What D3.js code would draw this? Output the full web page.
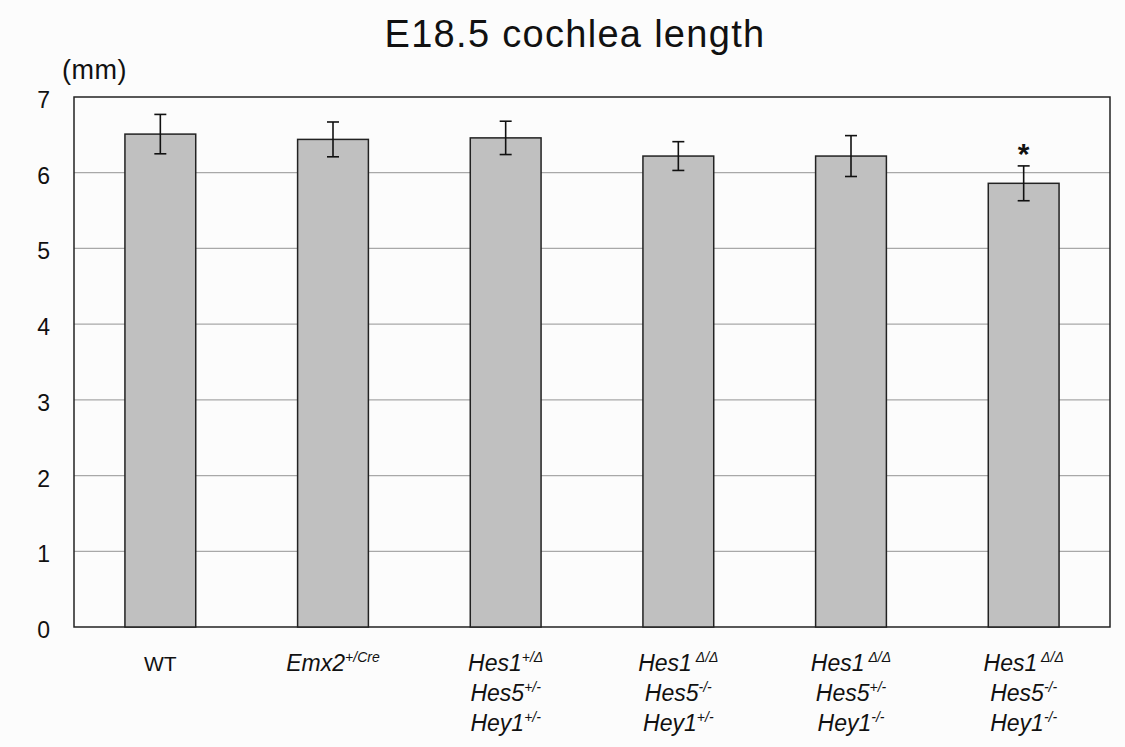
<!DOCTYPE html>
<html>
<head>
<meta charset="utf-8">
<script src="https://cdn.jsdelivr.net/npm/d3@7"></script>
<style>
  body { margin: 0; background: #fcfcfc; }
  text { font-family: "Liberation Sans", Arial, sans-serif; fill: #111; }
</style>
</head>
<body>
<svg width="1125" height="747"></svg>
<script>
// Data
var groups = ["WT", "Emx2", "Hes1+/d", "Hes1d/d Hes5-/- Hey1+/-", "Hes1d/d Hes5+/- Hey1-/-", "Hes1d/d Hes5-/- Hey1-/-"];
var means = [6.51, 6.44, 6.46, 6.22, 6.22, 5.86];
var errs = [0.26, 0.23, 0.22, 0.19, 0.27, 0.23];
var stars = ["", "", "", "", "", "*"];
var yTicks = [0, 1, 2, 3, 4, 5, 6, 7];
// label lines: [base text, superscript]
var labelLines = [
  [["WT", ""]],
  [["Emx2", "+/Cre"]],
  [["Hes1", "+/\u0394"], ["Hes5", "+/-"], ["Hey1", "+/-"]],
  [["Hes1", " \u0394/\u0394"], ["Hes5", "-/-"], ["Hey1", "+/-"]],
  [["Hes1", " \u0394/\u0394"], ["Hes5", "+/-"], ["Hey1", "-/-"]],
  [["Hes1", " \u0394/\u0394"], ["Hes5", "-/-"], ["Hey1", "-/-"]]
];
var italic = [false, true, true, true, true, true];

var svg = d3.select("svg");
var pL = 74, pR = 1110, pT = 97, pB = 627;

var x = d3.scaleBand().domain(groups).range([pL, pR]).paddingInner(0.59).paddingOuter(0.295);
var y = d3.scaleLinear().domain([0, 7]).range([pB, pT]);

// gridlines
svg.append("g").selectAll("line")
  .data(yTicks.filter(function(d) { return d > 0 && d < 7; }))
  .enter().append("line")
  .attr("x1", pL).attr("x2", pR)
  .attr("y1", function(d) { return y(d); })
  .attr("y2", function(d) { return y(d); })
  .style("stroke", "#a8a8a8").style("stroke-width", 1.2);

// plot frame
svg.append("rect")
  .attr("x", pL).attr("y", pT)
  .attr("width", pR - pL).attr("height", pB - pT)
  .style("fill", "none").style("stroke", "#222").style("stroke-width", 1.5);

// bars
svg.append("g").selectAll("rect")
  .data(groups)
  .enter().append("rect")
  .attr("x", function(d) { return x(d); })
  .attr("y", function(d, i) { return y(means[i]); })
  .attr("width", x.bandwidth())
  .attr("height", function(d, i) { return y(0) - y(means[i]); })
  .style("fill", "#c0c0c0").style("stroke", "#222").style("stroke-width", 1.5);

// error bars
var eb = svg.append("g").style("stroke", "#111").style("stroke-width", 1.6);
groups.forEach(function(g, i) {
  var cx = x(g) + x.bandwidth() / 2;
  eb.append("line").attr("x1", cx).attr("x2", cx)
    .attr("y1", y(means[i] + errs[i])).attr("y2", y(means[i] - errs[i]));
  [means[i] + errs[i], means[i] - errs[i]].forEach(function(v) {
    eb.append("line").attr("x1", cx - 6).attr("x2", cx + 6)
      .attr("y1", y(v)).attr("y2", y(v));
  });
  if (stars[i]) {
    svg.append("text").attr("x", cx).attr("y", y(means[i] + errs[i]) - 2)
      .attr("text-anchor", "middle").style("font-size", "30px").style("font-weight", "bold")
      .text(stars[i]);
  }
});

// y axis labels
svg.append("g").selectAll("text")
  .data(yTicks)
  .enter().append("text")
  .attr("x", 50).attr("y", function(d) { return y(d) + 11; })
  .attr("text-anchor", "end")
  .style("font-size", "23px")
  .text(function(d) { return d; });

svg.append("text").attr("x", 62).attr("y", 79)
  .style("font-size", "27px").style("letter-spacing", "0.5px").text("(mm)");

svg.append("text").attr("x", 575).attr("y", 47)
  .attr("text-anchor", "middle").style("font-size", "38px").style("letter-spacing", "1.3px")
  .text("E18.5 cochlea length");

// x category labels
groups.forEach(function(g, i) {
  var cx = x(g) + x.bandwidth() / 2;
  labelLines[i].forEach(function(ln, j) {
    var t = svg.append("text")
      .attr("x", cx).attr("y", 671 + j * 30)
      .attr("text-anchor", "middle")
      .style("font-size", i === 0 ? "21px" : "23px")
      .style("font-style", italic[i] ? "italic" : "normal");
    t.append("tspan").text(ln[0]);
    if (ln[1]) {
      t.append("tspan").attr("dy", -9).style("font-size", "14px").text(ln[1]);
    }
  });
});
</script>
</body>
</html>
